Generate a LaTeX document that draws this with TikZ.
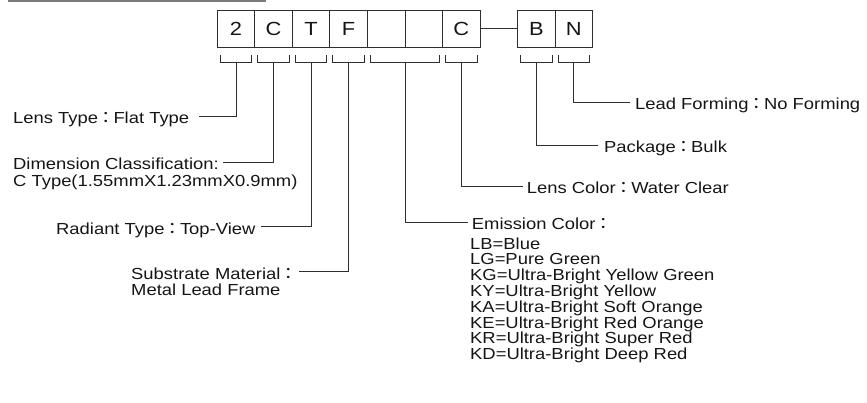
\documentclass[tikz,border=0pt]{standalone}
\usepackage{fontspec}
\setmainfont[FakeStretch=1.15]{Liberation Sans}
\newfontfamily\cjkfont[FakeStretch=1.15]{Noto Sans CJK TC}
\newcommand{\fwcolon}{\kern-1.5pt{\cjkfont ：}\kern-1.5pt}
\definecolor{txt}{HTML}{151515}
\definecolor{lncol}{HTML}{2E2E2E}
\definecolor{barcol}{HTML}{7A7A7A}
\begin{document}
\begin{tikzpicture}[x=1pt,y=-1pt,
  lbl/.style={inner sep=0pt, text=txt, text height=15pt, text depth=0pt, font=\fontsize{16}{17}\selectfont},
  cell/.style={draw=lncol, line width=0.9pt, minimum width=37.53pt, minimum height=37pt, inner sep=0pt, text=txt, font=\fontsize{19}{20}\selectfont},
  conn/.style={draw=lncol, line width=0.9pt},
]
\useasboundingbox (0,0) rectangle (867,402);
\fill[barcol] (8,0) rectangle (266,2.2);
% code cells
\foreach \n/\k/\t in {c1/0/2,c2/1/C,c3/2/T,c4/3/F,c5/4/{},c6/5/{},c7/6/C,c8/8/B,c9/9/N}
  \node[cell] (\n) at ({217.3+37.53*\k+18.765},28.5) {\t};
\draw[conn] (c7.east) -- (c8.west);
% brackets
\foreach \a/\b/\n in {0/1/b1,1/2/b2,2/3/b3,3/4/b4,4/6/b5,6/7/b6,8/9/b7,9/10/b8} {
  \draw[conn] ({217.3+37.53*\a+3},55) -- ++(0,7) -- ({217.3+37.53*\b-3},62) -- ++(0,-7);
  \coordinate (\n) at ({217.3+37.53*(\a+\b)/2},62);
}
% left labels
\node[lbl, anchor=west] (l1) at (13,116) {Lens Type\fwcolon Flat Type};
\draw[conn] (b1) |- ([xshift=10pt]l1.east);
\node[lbl, anchor=west] (l2) at (13,162) {Dimension Classification:};
\node[lbl, anchor=west] (l2b) at (13,178.7) {C Type(1.55mmX1.23mmX0.9mm)};
\draw[conn] (b2) |- ([xshift=4pt]l2.east);
\node[lbl, anchor=west] (l3) at (56,226.7) {Radiant Type\fwcolon Top-View};
\draw[conn] (b3) |- ([xshift=5pt]l3.east);
\node[lbl, anchor=west] (l4) at (131,271.7) {Substrate Material\fwcolon};
\node[lbl, anchor=west] (l4b) at (131,287.7) {Metal Lead Frame};
\draw[conn] (b4) |- ([xshift=3pt]l4.east);
% right labels
\node[lbl, anchor=west] (l5) at (471.7,222) {Emission Color\fwcolon};
\draw[conn] (b5) |- ([xshift=-4pt]l5.west);
\foreach \i/\t in {0/LB=Blue,1/LG=Pure Green,2/KG=Ultra-Bright Yellow Green,3/KY=Ultra-Bright Yellow,4/KA=Ultra-Bright Soft Orange,5/KE=Ultra-Bright Red Orange,6/KR=Ultra-Bright Super Red,7/KD=Ultra-Bright Deep Red}
  \node[lbl, anchor=west] (e\i) at (470,{241.5+15.8*\i}) {\t};
\node[lbl, anchor=west] (l6) at (526.7,186) {Lens Color\fwcolon Water Clear};
\draw[conn] (b6) |- ([xshift=-4pt]l6.west);
\node[lbl, anchor=west] (l7) at (604,145) {Package\fwcolon Bulk};
\draw[conn] (b7) |- ([xshift=-6pt]l7.west);
\node[lbl, anchor=west] (l8) at (635,102) {Lead Forming\fwcolon No Forming};
\draw[conn] (b8) |- ([xshift=-5pt]l8.west);
\end{tikzpicture}
\end{document}
